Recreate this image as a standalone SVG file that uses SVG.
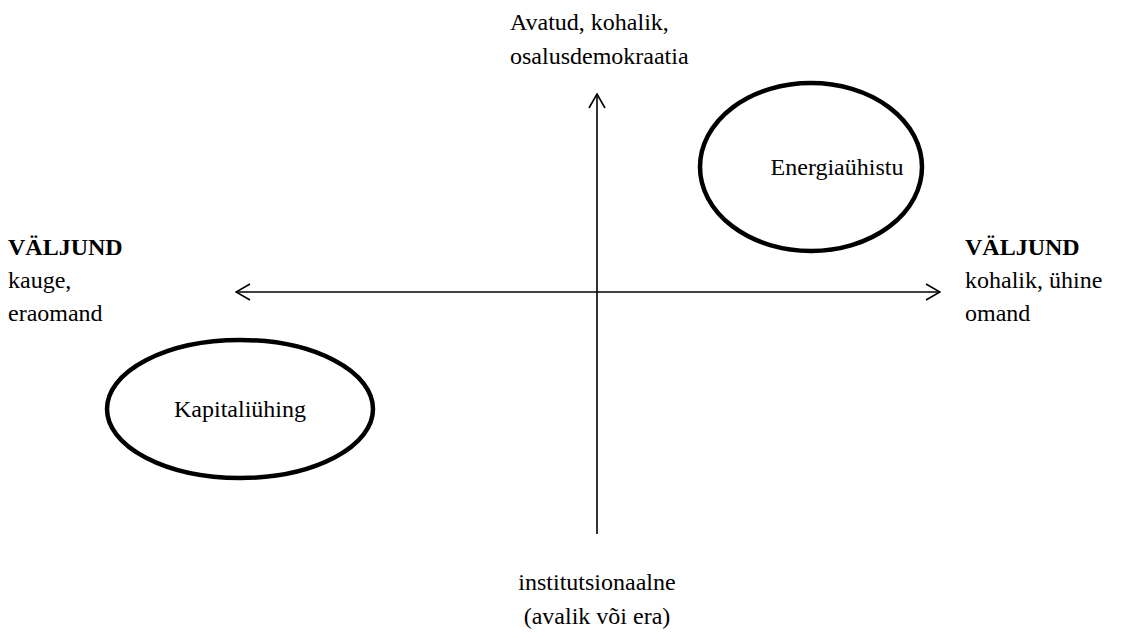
<svg xmlns="http://www.w3.org/2000/svg" width="1121" height="633" viewBox="0 0 1121 633">
  <style>
    text { font-family: 'Liberation Serif', 'Times New Roman', Times, serif; font-size: 24px; fill: #000; }
    .b { font-weight: bold; }
    .mid { text-anchor: middle; }
    .axis { stroke: #000; stroke-width: 1.6; fill: none; }
    .oval { stroke: #000; stroke-width: 4.5; fill: none; }
  </style>
  <defs>
    <marker id="chev" viewBox="0 0 16 18" refX="15" refY="9" markerWidth="16" markerHeight="18" markerUnits="userSpaceOnUse" orient="auto-start-reverse">
      <path d="M1,1 L15,9 L1,17" fill="none" stroke="#000" stroke-width="1.6"/>
    </marker>
  </defs>
  <rect width="1121" height="633" fill="#fff"/>

  <g id="connectors">
    <line class="axis" x1="597" y1="534" x2="597" y2="94" marker-end="url(#chev)"/>
    <line class="axis" x1="236" y1="292" x2="940" y2="292" marker-start="url(#chev)" marker-end="url(#chev)"/>
  </g>

  <g id="label-top" font-family="Liberation Serif, serif">
    <text x="510" y="30">Avatud, kohalik,</text>
    <text x="510" y="64">osalusdemokraatia</text>
  </g>
  <g id="label-left">
    <text x="8" y="255" class="b">VÄLJUND</text>
    <text x="8" y="288">kauge,</text>
    <text x="8" y="321">eraomand</text>
  </g>
  <g id="label-right">
    <text x="965" y="255" class="b">VÄLJUND</text>
    <text x="965" y="288">kohalik, ühine</text>
    <text x="965" y="321">omand</text>
  </g>
  <g id="label-bottom">
    <text x="597" y="590" class="mid">institutsionaalne</text>
    <text x="597" y="624" class="mid">(avalik või era)</text>
  </g>

  <g id="energiayhistu">
    <ellipse class="oval" cx="811" cy="167" rx="111" ry="84"/>
    <text x="837" y="175" class="mid">Energiaühistu</text>
  </g>
  <g id="kapitaliyhing">
    <ellipse class="oval" cx="240" cy="409" rx="133" ry="69"/>
    <text x="240" y="417" class="mid">Kapitaliühing</text>
  </g>
</svg>
